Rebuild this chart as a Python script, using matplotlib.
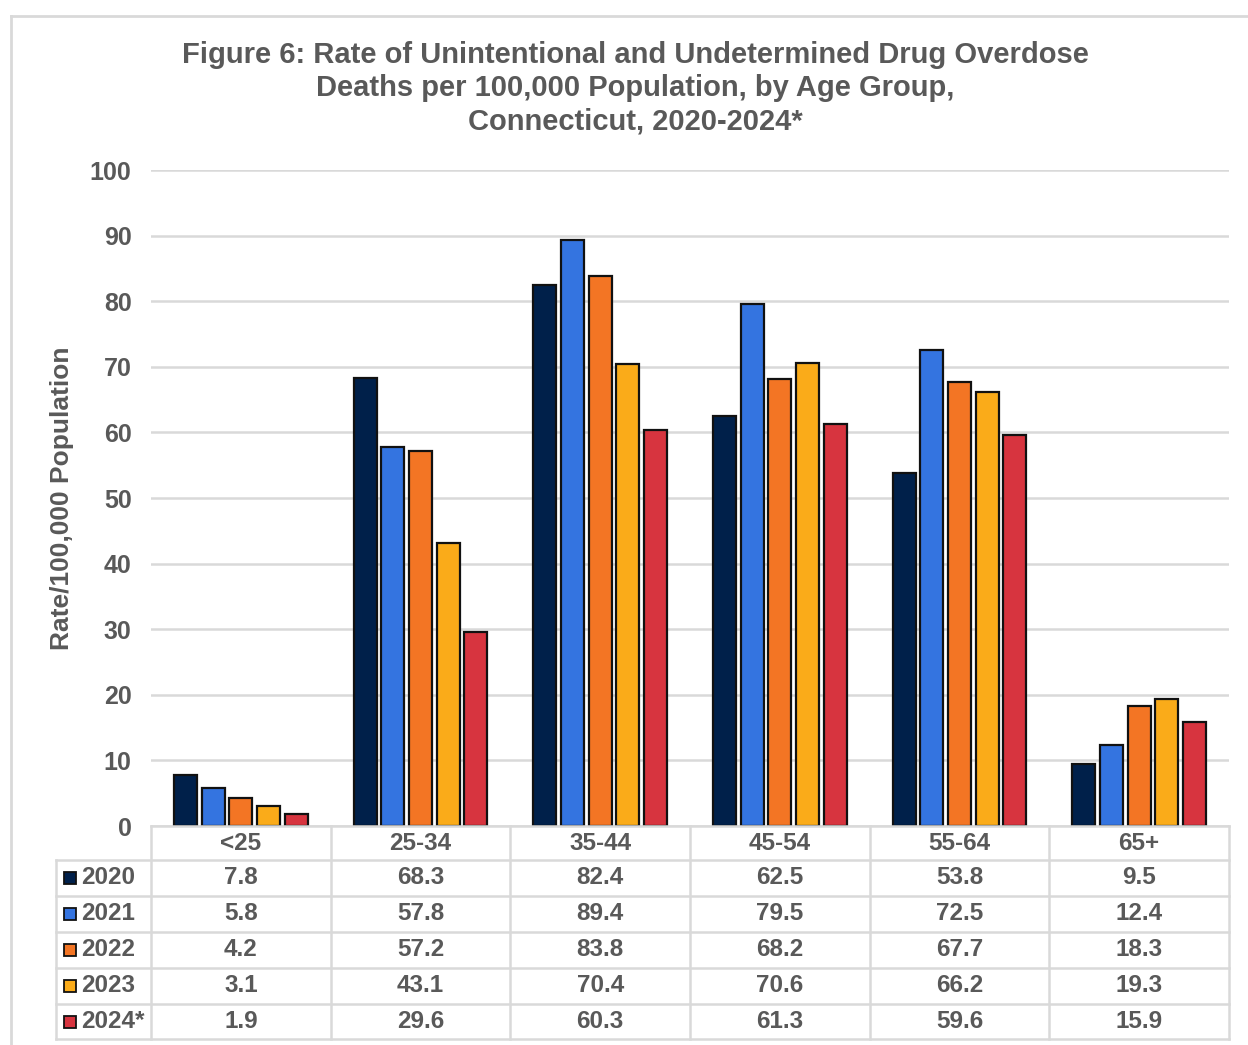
import matplotlib
matplotlib.use("Agg")
import matplotlib.pyplot as plt
from matplotlib.transforms import blended_transform_factory
from matplotlib.patches import Rectangle
from matplotlib.lines import Line2D

categories = ["<25", "25-34", "35-44", "45-54", "55-64", "65+"]
years = ["2020", "2021", "2022", "2023", "2024*"]
v2020 = [7.8, 68.3, 82.4, 62.5, 53.8, 9.5]
v2021 = [5.8, 57.8, 89.4, 79.5, 72.5, 12.4]
v2022 = [4.2, 57.2, 83.8, 68.2, 67.7, 18.3]
v2023 = [3.1, 43.1, 70.4, 70.6, 66.2, 19.3]
v2024 = [1.9, 29.6, 60.3, 61.3, 59.6, 15.9]
series = [v2020, v2021, v2022, v2023, v2024]
colors = ["#00204A", "#3474E0", "#F37524", "#FAAB19", "#D7343F"]
yticks = [0, 10, 20, 30, 40, 50, 60, 70, 80, 90, 100]

TXT = "#595959"
GRID = "#D9D9D9"
FONT = "Liberation Sans"
FS = 17.5

W, H = 1248, 1045
fig = plt.figure(figsize=(W / 100, H / 100), dpi=100)

def fx(px):
    return px / W

def fy(py):
    return 1 - py / H

# plot area
x0, x1, ytop, ybot = 151, 1229, 170, 826
ax = fig.add_axes([fx(x0), fy(ybot), fx(x1) - fx(x0), fy(ytop) - fy(ybot)])
ax.set_xlim(-0.5, len(categories) - 0.5)
ax.set_ylim(0, 100)
for s in ax.spines.values():
    s.set_visible(False)
ax.set_xticks([])
ax.set_yticks(yticks)
ax.tick_params(axis="y", length=0, pad=14)
for lab in ax.get_yticklabels():
    lab.set_fontfamily(FONT)
    lab.set_fontweight("bold")
    lab.set_fontsize(18)
    lab.set_color(TXT)
for t in yticks:
    ax.axhline(t, color=GRID, lw=1.8, zorder=0)

step = 0.154
bw = 0.128
for i, (vals, c) in enumerate(zip(series, colors)):
    xs = [k + (i - 2) * step for k in range(len(categories))]
    ax.bar(xs, vals, width=bw, color=c, edgecolor="#111111", linewidth=1.6, zorder=3)

fig.text(fx(62), fy(498), "Rate/100,000 Population", rotation=90, ha="center", va="center",
         fontfamily=FONT, fontweight="bold", fontsize=19, color=TXT)

# title
fig.text(fx(635), fy(88), "Figure 6: Rate of Unintentional and Undetermined Drug Overdose\n"
         "Deaths per 100,000 Population, by Age Group,\nConnecticut, 2020-2024*",
         ha="center", va="center", fontfamily=FONT, fontweight="bold", fontsize=21,
         color=TXT, linespacing=1.24)

# data table
tr = blended_transform_factory(ax.transData, fig.transFigure)
row_edges = [826, 860, 896, 932, 968, 1004, 1039]
left_x = 56
lw = 1.8
fig.add_artist(Line2D([fx(x0), fx(x1)], [fy(826)] * 2, color=GRID, lw=lw, transform=fig.transFigure))
for ry in row_edges[1:]:
    fig.add_artist(Line2D([fx(left_x), fx(x1)], [fy(ry)] * 2, color=GRID, lw=lw, transform=fig.transFigure))
for k in range(len(categories) + 1):
    fig.add_artist(Line2D([k - 0.5, k - 0.5], [fy(826), fy(1039)], color=GRID, lw=lw, transform=tr))
fig.add_artist(Line2D([fx(left_x)] * 2, [fy(860), fy(1039)], color=GRID, lw=lw, transform=fig.transFigure))

for k, cat in enumerate(categories):
    fig.text(k, fy(843), cat, transform=tr, ha="center", va="center", fontfamily=FONT,
             fontweight="bold", fontsize=FS, color=TXT)
for r, (yr, vals, c) in enumerate(zip(years, series, colors)):
    cy = (row_edges[r + 1] + row_edges[r + 2]) / 2
    fig.add_artist(Rectangle((fx(64), fy(cy + 6)), fx(12), fy(cy - 6) - fy(cy + 6),
                             facecolor=c, edgecolor="#111111", lw=1.3, transform=fig.transFigure))
    fig.text(fx(81), fy(cy), yr, ha="left", va="center", fontfamily=FONT,
             fontweight="bold", fontsize=FS, color=TXT)
    for k, v in enumerate(vals):
        fig.text(k, fy(cy), f"{v:.1f}", transform=tr, ha="center", va="center",
                 fontfamily=FONT, fontweight="bold", fontsize=FS, color=TXT)

# outer border
fig.add_artist(Line2D([fx(11), 1], [fy(16)] * 2, color=GRID, lw=2, transform=fig.transFigure))
fig.add_artist(Line2D([fx(11)] * 2, [fy(16), 0], color=GRID, lw=2, transform=fig.transFigure))

fig.savefig("out.png", dpi=100)
